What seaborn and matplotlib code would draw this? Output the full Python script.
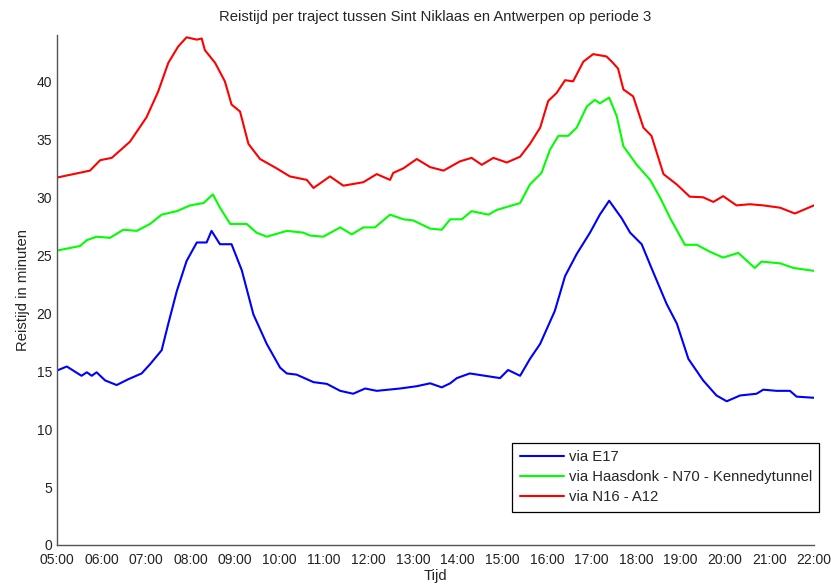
#!/usr/bin/env python3
"""
Reistijd per traject tussen Sint Niklaas en Antwerpen (periode 3)
"""

import matplotlib
matplotlib.use('Agg')  # no display
import matplotlib.pyplot as plt
import seaborn as sns
import pandas as pd

e17_t = [5.0, 5.22, 5.55, 5.67, 5.78, 5.89, 6.08, 6.34, 6.60, 6.90, 7.09, 7.35,
         7.50, 7.69, 7.91, 8.14, 8.36, 8.47, 8.66, 8.92, 9.15, 9.41, 9.71, 10.01,
         10.16, 10.38, 10.76, 11.06, 11.36, 11.65, 11.92, 12.18, 12.70, 13.08,
         13.38, 13.64, 13.83, 13.98, 14.27, 14.95, 15.13, 15.40, 15.62, 15.85,
         16.18, 16.41, 16.67, 16.97, 17.19, 17.40, 17.68, 17.87, 18.13, 18.35,
         18.69, 18.92, 19.18, 19.51, 19.81, 20.04, 20.34, 20.71, 20.86, 21.16,
         21.46, 21.61, 22.0]
e17_v = [15.05, 15.4, 14.6, 14.9, 14.6, 14.9, 14.2, 13.8, 14.3, 14.8, 15.6, 16.8,
         19.1, 21.9, 24.5, 26.1, 26.1, 27.1, 25.95, 25.95, 23.7, 19.9, 17.35, 15.3,
         14.8, 14.7, 14.05, 13.9, 13.3, 13.05, 13.5, 13.3, 13.5, 13.7,
         13.95, 13.6, 13.95, 14.4, 14.8, 14.4, 15.1, 14.6, 16.05, 17.35,
         20.2, 23.2, 25.1, 26.95, 28.5, 29.7, 28.2, 26.95, 25.95, 23.9,
         20.8, 19.1, 16.05, 14.2, 12.9, 12.4, 12.9, 13.05, 13.4, 13.3,
         13.3, 12.8, 12.7]

n70_t = [5.0, 5.52, 5.67, 5.89, 6.19, 6.49, 6.79, 7.09, 7.35, 7.69, 7.99, 8.29,
         8.50, 8.66, 8.89, 9.26, 9.48, 9.71, 10.16, 10.53, 10.68, 10.98, 11.36,
         11.62, 11.88, 12.14, 12.48, 12.78, 13.0, 13.38, 13.64, 13.83, 14.09,
         14.31, 14.69, 14.87, 15.40, 15.62, 15.88, 16.07, 16.26, 16.48, 16.67,
         16.90, 17.08, 17.19, 17.40, 17.57, 17.72, 18.02, 18.32, 18.54, 18.77,
         19.10, 19.37, 19.66, 19.96, 20.30, 20.67, 20.82, 21.24, 21.54, 22.0]
n70_v = [25.4, 25.8, 26.3, 26.6, 26.5, 27.2, 27.1, 27.7, 28.5, 28.8, 29.3, 29.5,
         30.25, 29.1, 27.7, 27.7, 26.95, 26.6, 27.1, 26.95, 26.7, 26.6, 27.4,
         26.8, 27.4, 27.4, 28.5, 28.1, 28.0, 27.3, 27.2, 28.1, 28.1,
         28.8, 28.5, 28.9, 29.5, 31.1, 32.1, 34.1, 35.3, 35.3, 36.0,
         37.85, 38.4, 38.1, 38.6, 37.0, 34.4, 32.8, 31.5, 30.0, 28.2,
         25.9, 25.9, 25.3, 24.8, 25.2, 23.9, 24.45, 24.3, 23.9, 23.65]

n16_t = [5.0, 5.74, 5.97, 6.23, 6.64, 7.01, 7.27, 7.50, 7.72, 7.91, 8.14, 8.25,
         8.32, 8.55, 8.77, 8.92, 9.11, 9.30, 9.56, 9.93, 10.23, 10.61, 10.76,
         11.13, 11.43, 11.88, 12.18, 12.48, 12.55, 12.78, 13.08, 13.38, 13.68,
         14.05, 14.31, 14.54, 14.80, 15.10, 15.40, 15.62, 15.85, 16.03, 16.22,
         16.41, 16.59, 16.82, 17.04, 17.34, 17.46, 17.60, 17.72, 17.94, 18.17,
         18.35, 18.62, 18.92, 19.21, 19.51, 19.74, 19.96, 20.26, 20.56, 20.86,
         21.24, 21.57, 22.0]
n16_v = [31.7, 32.3, 33.2, 33.4, 34.8, 36.9, 39.1, 41.6, 43.0, 43.8, 43.6, 43.7,
         42.7, 41.6, 40.0, 38.0, 37.4, 34.6, 33.3, 32.5, 31.8, 31.5, 30.8,
         31.8, 31.0, 31.3, 32.0, 31.5, 32.1, 32.5, 33.3, 32.6, 32.3,
         33.1, 33.4, 32.8, 33.4, 33.0, 33.5, 34.6, 36.0, 38.3, 39.0,
         40.1, 40.0, 41.7, 42.35, 42.15, 41.7, 41.1, 39.3, 38.7, 36.0,
         35.3, 32.0, 31.1, 30.05, 30.0, 29.6, 30.1, 29.3, 29.4, 29.3,
         29.1, 28.6, 29.3]

labels = ['via E17', 'via Haasdonk - N70 - Kennedytunnel', 'via N16 - A12']
colors = ['#0000ff', '#00ff00', '#ff0000']
hour_ticks = list(range(5, 23))
hour_labels = ['%02d:00' % h for h in hour_ticks]
y_ticks = [0, 5, 10, 15, 20, 25, 30, 35, 40]

sns.set_style('white')
plt.rcParams['font.family'] = ['Liberation Sans', 'DejaVu Sans']

# Lange tabel voor seaborn
frames = []
for lab, t, v in zip(labels, [e17_t, n70_t, n16_t], [e17_v, n70_v, n16_v]):
    frames.append(pd.DataFrame({'Tijd': t, 'Reistijd': v, 'Traject': lab}))
df = pd.concat(frames, ignore_index=True)

fig = plt.figure(figsize=(8.31, 5.84), dpi=100)
ax = fig.add_axes([57 / 831, 1 - 545 / 584, 757 / 831, 510 / 584])

sns.lineplot(data=df, x='Tijd', y='Reistijd', hue='Traject', hue_order=labels,
             palette=colors, linewidth=1.5, ax=ax, estimator=None, sort=True)

ax.set_xlim(5, 22)
ax.set_ylim(0, 44)
ax.set_xticks(hour_ticks)
ax.set_xticklabels(hour_labels)
ax.set_yticks(y_ticks)
ax.tick_params(direction='in', length=5.8, width=0.8, labelsize=10,
               colors='#222222')
ax.tick_params(axis='x', pad=5.5)
ax.tick_params(axis='y', pad=3.5)

for side in ['top', 'right']:
    ax.spines[side].set_visible(False)
for side in ['left', 'bottom']:
    ax.spines[side].set_color('#555555')
    ax.spines[side].set_linewidth(1.0)

ax.set_title('Reistijd per traject tussen Sint Niklaas en Antwerpen op periode 3',
             fontsize=10.7, pad=10)
ax.set_xlabel('Tijd', fontsize=10.7)
ax.xaxis.set_label_coords(0.5, (545 - 569) / 510)
ax.set_ylabel('Reistijd in minuten', fontsize=10.7, labelpad=5)

leg = ax.legend(loc='lower right', bbox_to_anchor=(1.007, 0.065), borderaxespad=0,
                fancybox=False, framealpha=1, edgecolor='black',
                handlelength=3.0, handletextpad=0.28, labelspacing=0.42,
                borderpad=0.5, prop={'family': 'Liberation Sans', 'size': 10.7})
leg.get_frame().set_linewidth(0.9)

plt.savefig('out.png', dpi=100)
plt.close()
